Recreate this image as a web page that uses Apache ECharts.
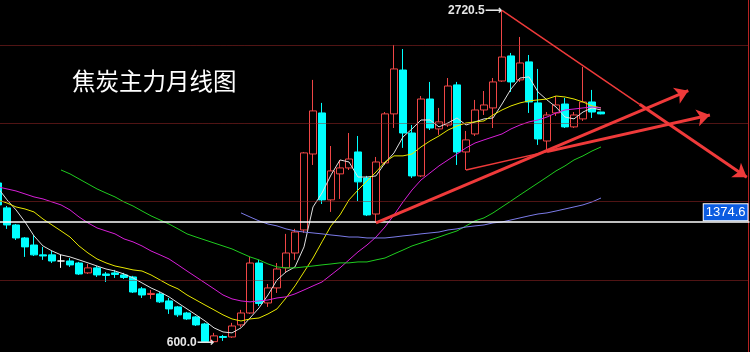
<!DOCTYPE html>
<html><head><meta charset="utf-8">
<script src="https://cdn.jsdelivr.net/npm/echarts@6/dist/echarts.min.js"></script>
<style>html,body{margin:0;padding:0;background:#000}#c{width:750px;height:352px}</style>
</head><body><div id="c"></div>
<script>
// monthly categories (last 16 are empty future slots)
const categories = [
'2013-12',
'2014-01','2014-02','2014-03','2014-04','2014-05','2014-06','2014-07','2014-08','2014-09','2014-10','2014-11','2014-12',
'2015-01','2015-02','2015-03','2015-04','2015-05','2015-06','2015-07','2015-08','2015-09','2015-10','2015-11','2015-12',
'2016-01','2016-02','2016-03','2016-04','2016-05','2016-06','2016-07','2016-08','2016-09','2016-10','2016-11','2016-12',
'2017-01','2017-02','2017-03','2017-04','2017-05','2017-06','2017-07','2017-08','2017-09','2017-10','2017-11','2017-12',
'2018-01','2018-02','2018-03','2018-04','2018-05','2018-06','2018-07','2018-08','2018-09','2018-10','2018-11','2018-12',
'2019-01','2019-02','2019-03','2019-04','2019-05','2019-06','2019-07','2019-08','2019-09','2019-10','2019-11','2019-12',
'2020-01','2020-02','2020-03','2020-04','2020-05','2020-06','2020-07','2020-08','2020-09','2020-10','2020-11'
];
// [open, close, low, high]
const candles = [
[1619,1479,1466,1632],[1460,1351,1326,1472],[1351,1268,1255,1357],[1268,1211,1147,1274],
[1223,1160,1153,1287],[1160,1153,1128,1211],[1160,1121,1108,1185],[1121,1121,1077,1160],
[1121,1096,1083,1140],[1108,1038,1032,1115],[1045,1077,1038,1102],[1077,1032,1019,1089],
[1038,1029,987,1051],[1045,1035,1013,1064],[1032,1016,1006,1045],[1019,923,917,1026],
[943,904,885,955],[907,914,879,936],[911,860,853,923],[866,815,783,885],
[828,777,764,834],[789,751,745,796],[764,713,706,770],[719,607,604,726],
[606,643,600,662],[639,633,611,649],[636,706,630,726],[713,789,700,809],
[789,1108,783,1147],[1108,850,834,1128],[853,949,828,974],[949,1070,917,1108],
[1077,1172,1045,1294],[1172,1306,1128,1326],[1319,1811,1300,1817],[1804,2079,1734,2277],
[2066,1511,1485,2130],[1511,1696,1434,1855],[1677,1715,1517,1766],[1715,1772,1702,1938],
[1817,1626,1504,1919],[1651,1415,1408,1664],[1421,1753,1364,1785],[1747,2060,1734,2072],
[2060,2347,1970,2500],[2340,1938,1843,2474],[1938,1664,1651,1989],[1664,2155,1657,2174],
[2155,1970,1957,2264],[1964,2009,1926,2098],[1989,2238,1977,2289],[2245,1817,1734,2264],
[1817,1894,1702,1951],[1932,2085,1919,2149],[2085,2117,2053,2206],[2098,2264,1970,2289],
[2270,2423,2264,2720.5],[2430,2264,2200,2449],[2277,2385,2264,2551],[2392,2136,2066,2436],
[2130,1900,1862,2347],[1887,2053,1830,2072],[2066,2117,2047,2174],[2123,1977,1970,2162],
[1977,2053,1970,2072],[2028,2136,2015,2360],[2136,2072,2034,2213],[2072,2060,2057,2074]
];
const ma5 = [
1587,1511,1447,1370,1281,1217,1185,1160,1147,1128,
1109,1089,1070,1057,1038,1013,981,949,923,892,
853,815,777,738,694,668,662,694,757,821,
904,1000,1051,1083,1211,1466,1555,1670,1766,1753,
1657,1657,1664,1747,1811,1913,1964,2021,2021,1977,
2002,2034,1989,2009,2028,2034,2123,2219,2289,2296,
2200,2149,2104,2040,2028,2072,2098,2085];
const ma10 = [
1511,1491,1466,1453,1434,1389,1351,1313,1274,1217,
1172,1134,1109,1089,1077,1064,1057,1032,1000,968,
943,904,872,840,809,777,751,738,751,757,
783,815,885,962,1051,1140,1243,1345,1415,1511,
1574,1632,1689,1753,1792,1792,1804,1849,1887,1919,
1957,1983,2002,2009,2015,2053,2085,2111,2130,2143,
2149,2155,2174,2168,2155,2136,2111,2098];
const ma20 = [
1594,1581,1568,1549,1530,1517,1498,1479,1447,1402,
1364,1332,1313,1294,1262,1243,1217,1185,1160,1134,
1096,1057,1019,981,943,904,879,866,860,866,
872,885,892,911,936,962,987,1032,1077,1128,
1179,1223,1274,1338,1415,1498,1574,1638,1683,1728,
1766,1804,1843,1874,1894,1913,1932,1964,1989,2009,
2021,2040,2066,2085,2091,2098,2104,2098];
const ma40 = [
'-','-','-','-','-','-','-',
1702,1677,1645,1613,1581,1555,1530,1498,1472,1440,
1409,1383,1357,1326,1294,1274,1255,1236,1217,1198,
1172,1147,1128,1102,1083,1077,1077,1083,1089,1096,
1102,1109,1109,1115,1115,1128,1140,1166,1191,1217,
1236,1255,1274,1294,1313,1345,1377,1396,1428,1466,
1504,1543,1581,1619,1657,1696,1728,1766,1792,1823,1849];
const ma60 = [
'-','-','-','-','-','-','-','-','-','-','-','-','-','-','-','-','-','-','-','-','-','-','-','-','-','-','-',
1428,1402,1377,1357,1345,1326,1313,1306,1300,1294,
1287,1281,1274,1274,1268,1268,1268,1274,1281,1287,
1294,1300,1306,1319,1326,1338,1345,1351,1364,1370,
1383,1396,1409,1421,1428,1440,1453,1466,1479,1498,1523];
const gridLevels = [1000, 1500, 2000, 2500];
const lastPrice = 1374.6;
const titleText = '焦炭主力月线图';
// hand-drawn trend lines: [[categoryIndex, price], [categoryIndex, price]]
const trendThin = [
  [[56, 2720.5], [71.3, 2121]],
  [[52, 1702], [61, 1819]]
];
const trendArrows = [
  [[71.3, 2121], [83.2, 1655]],
  [[42, 1364], [76.7, 2208]],
  [[61, 1819], [79.1, 2053]]
];

const chart = echarts.init(document.getElementById('c'), null, {renderer: 'canvas'});
const red = '#ef3a3a';
chart.setOption({
  animation: false,
  backgroundColor: '#000',
  title: {
    text: titleText, left: 67, top: 64,
    textStyle: {color: '#ffffff', fontSize: 23.5, fontWeight: 'normal', fontFamily: '"Noto Sans CJK SC"'}
  },
  grid: {left: -6.5, right: 0.5, top: 0, bottom: 0, outerBoundsMode: 'none', containLabel: false},
  xAxis: [
    {type: 'category', data: categories, boundaryGap: true, show: false},
    {type: 'value', min: -0.5, max: 83.5, show: false}
  ],
  yAxis: [{
    type: 'value', min: 540, max: 2787, position: 'right', offset: -1.5, scale: true,
    splitLine: {show: false}, axisLabel: {show: false}, axisTick: {show: false},
    axisLine: {show: true, onZero: false, lineStyle: {color: '#b42222', width: 1}}
  }],
  series: [
    {
      type: 'candlestick', data: candles, barWidth: 7, z: 2,
      itemStyle: {color: '#000', color0: '#00ffff', borderColor: '#f04646', borderColor0: '#00ffff', borderColorDoji: '#ffffff', borderWidth: 1},
      markLine: {
        silent: true, symbol: 'none', animation: false,
        data: gridLevels.map(v => ({yAxis: v, lineStyle: {type: 'dotted', color: '#a12828', width: 1}, label: {show: false}})).concat([{
          yAxis: lastPrice,
          lineStyle: {type: 'solid', color: '#ffffff', width: 1.5},
          label: {
            show: true, position: 'insideEndTop', distance: [2, 1],
            formatter: () => lastPrice.toFixed(1),
            color: '#ffffff', fontSize: 13, fontFamily: '"Liberation Sans", Arial, sans-serif',
            backgroundColor: '#0b5be0', borderColor: '#ffffff', borderWidth: 1, padding: [2, 2, 1, 2]
          }
        }])
      },
      markPoint: {
        symbol: 'circle', symbolSize: 0, silent: true, animation: false,
        label: {show: true, position: 'left', distance: 0, color: '#e6e6e6', fontSize: 12, fontWeight: 'bold',
          fontFamily: '"Liberation Sans", "DejaVu Sans", Arial, sans-serif', formatter: p => p.value.toFixed(1) + '\u27f6'},
        data: [
          {type: 'max', valueDim: 'highest'},
          {type: 'min', valueDim: 'lowest'}
        ]
      }
    },
    {type: 'line', data: ma5, symbol: 'none', silent: true, z: 3, lineStyle: {color: '#e0e0e0', width: 1}},
    {type: 'line', data: ma10, symbol: 'none', silent: true, z: 3, lineStyle: {color: '#e8e800', width: 1}},
    {type: 'line', data: ma20, symbol: 'none', silent: true, z: 3, lineStyle: {color: '#d81fd8', width: 1}},
    {type: 'line', data: ma40, symbol: 'none', silent: true, z: 3, lineStyle: {color: '#1fcc1f', width: 1}},
    {type: 'line', data: ma60, symbol: 'none', silent: true, z: 3, lineStyle: {color: '#7b7be8', width: 1}},
    {
      type: 'line', xAxisIndex: 1, yAxisIndex: 0, data: [trendThin[0][0]], symbol: 'none', silent: true, z: 4,
      lineStyle: {opacity: 0},
      markLine: {
        silent: true, symbol: 'none', animation: false, label: {show: false},
        lineStyle: {color: red, width: 1.5, type: 'solid'},
        data: trendThin.map(s => [{coord: s[0]}, {coord: s[1]}])
      }
    },
    {
      type: 'line', xAxisIndex: 1, yAxisIndex: 0, data: [trendArrows[0][0]], symbol: 'none', silent: true, z: 4,
      lineStyle: {opacity: 0},
      markLine: {
        silent: true, symbol: ['none', 'arrow'], symbolSize: 13, animation: false, label: {show: false},
        lineStyle: {color: red, width: 3, type: 'solid'},
        data: trendArrows.map(s => [{coord: s[0]}, {coord: s[1]}])
      }
    }
  ]
});
</script>
</body></html>
